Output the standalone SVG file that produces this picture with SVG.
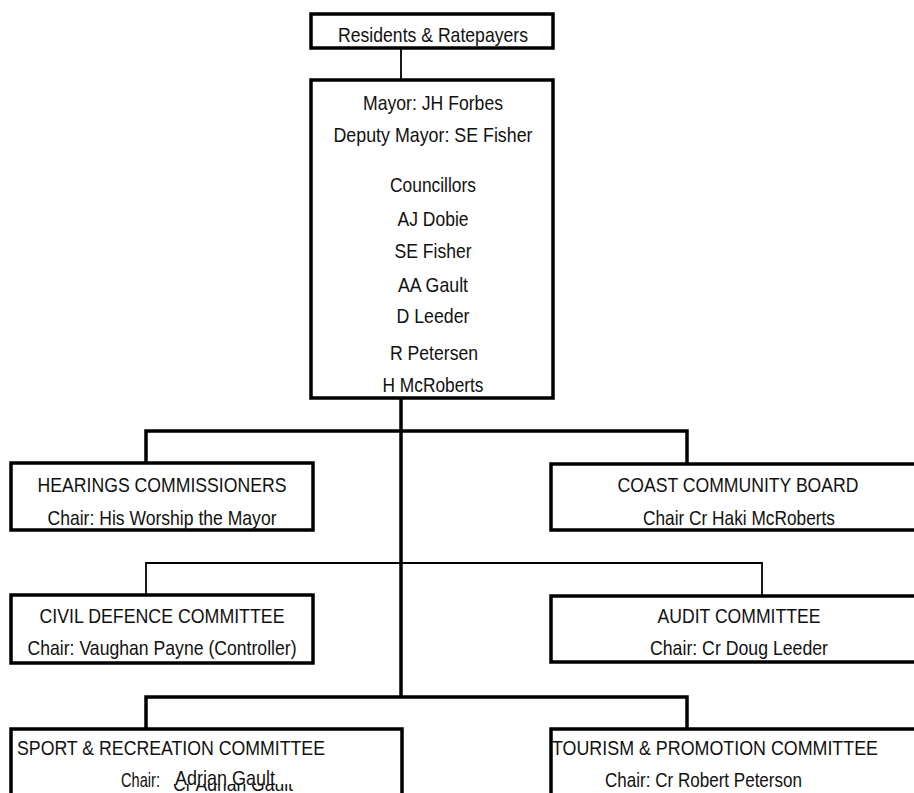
<svg xmlns="http://www.w3.org/2000/svg" width="914" height="793" viewBox="0 0 914 793">
<style>
.box{fill:#fff;stroke:#000;stroke-width:3.5}
text{font-family:"Liberation Sans",Arial,sans-serif;font-size:21px;fill:#111}
.c{text-anchor:middle}
.thin{stroke:#000;stroke-width:1.8;fill:none}
.thick{stroke:#000;stroke-width:3.5;fill:none}
</style>
<g id="connectors">
<line class="thin" x1="401" y1="48" x2="401" y2="80"/>
<line class="thick" x1="401" y1="398" x2="401" y2="697"/>
<polyline class="thick" points="146,463 146,431 687,431 687,464"/>
<polyline class="thin" points="146,595 146,563 762,563 762,596"/>
<polyline class="thick" points="146,729 146,697 687,697 687,729"/>
</g>
<g id="residents">
<rect class="box" x="311" y="14" width="242" height="34"/>
<text class="c" x="433" y="42" textLength="190" lengthAdjust="spacingAndGlyphs">Residents &amp; Ratepayers</text>
</g>
<g id="council">
<rect class="box" x="311" y="80" width="242" height="318"/>
<text class="c" x="433" y="110" textLength="140" lengthAdjust="spacingAndGlyphs">Mayor: JH Forbes</text>
<text class="c" x="433" y="142" textLength="199" lengthAdjust="spacingAndGlyphs">Deputy Mayor: SE Fisher</text>
<text class="c" x="433" y="192" textLength="86" lengthAdjust="spacingAndGlyphs">Councillors</text>
<text class="c" x="433" y="226" textLength="71" lengthAdjust="spacingAndGlyphs">AJ Dobie</text>
<text class="c" x="433" y="258" textLength="77" lengthAdjust="spacingAndGlyphs">SE Fisher</text>
<text class="c" x="433" y="292" textLength="70" lengthAdjust="spacingAndGlyphs">AA Gault</text>
<text class="c" x="433" y="323" textLength="73" lengthAdjust="spacingAndGlyphs">D Leeder</text>
<text class="c" x="434" y="360" textLength="88" lengthAdjust="spacingAndGlyphs">R Petersen</text>
<text class="c" x="433" y="392" textLength="101" lengthAdjust="spacingAndGlyphs">H McRoberts</text>
</g>
<g id="hearings">
<rect class="box" x="11" y="463" width="302" height="67"/>
<text class="c" x="162" y="492" textLength="249" lengthAdjust="spacingAndGlyphs">HEARINGS COMMISSIONERS</text>
<text class="c" x="162" y="525" textLength="229" lengthAdjust="spacingAndGlyphs">Chair: His Worship the Mayor</text>
</g>
<g id="coast">
<rect class="box" x="551" y="464" width="376" height="66"/>
<text class="c" x="738" y="492" textLength="241" lengthAdjust="spacingAndGlyphs">COAST COMMUNITY BOARD</text>
<text class="c" x="739" y="525" textLength="192" lengthAdjust="spacingAndGlyphs">Chair Cr Haki McRoberts</text>
</g>
<g id="civil">
<rect class="box" x="11" y="595" width="302" height="68"/>
<text class="c" x="162" y="623" textLength="245" lengthAdjust="spacingAndGlyphs">CIVIL DEFENCE COMMITTEE</text>
<text class="c" x="162" y="655" textLength="269" lengthAdjust="spacingAndGlyphs">Chair: Vaughan Payne (Controller)</text>
</g>
<g id="audit">
<rect class="box" x="551" y="596" width="376" height="66"/>
<text class="c" x="739" y="623" textLength="163" lengthAdjust="spacingAndGlyphs">AUDIT COMMITTEE</text>
<text class="c" x="739" y="655" textLength="178" lengthAdjust="spacingAndGlyphs">Chair: Cr Doug Leeder</text>
</g>
<g id="sport">
<rect class="box" x="11" y="729" width="391" height="80"/>
<text x="17" y="755" textLength="308" lengthAdjust="spacingAndGlyphs">SPORT &amp; RECREATION COMMITTEE</text>
<text x="121" y="787" font-size="17" textLength="39" lengthAdjust="spacingAndGlyphs">Chair:</text>
<text x="173" y="791" font-size="18" textLength="120" lengthAdjust="spacingAndGlyphs">Cr Adrian Gault</text>
<rect x="168" y="765" width="132" height="19" fill="#fff"/>
<text x="175" y="785" textLength="100" lengthAdjust="spacingAndGlyphs">Adrian Gault</text>
</g>
<g id="tourism">
<rect class="box" x="551" y="729" width="376" height="80"/>
<text x="552" y="755" textLength="326" lengthAdjust="spacingAndGlyphs">TOURISM &amp; PROMOTION COMMITTEE</text>
<text x="605" y="787" textLength="197" lengthAdjust="spacingAndGlyphs">Chair: Cr Robert Peterson</text>
</g>
</svg>
